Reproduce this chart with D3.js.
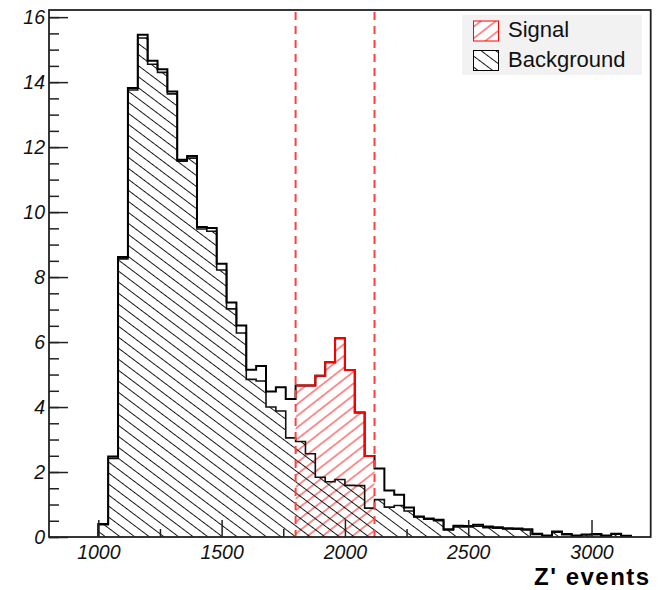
<!DOCTYPE html>
<html>
<head>
<meta charset="utf-8">
<script src="https://cdn.jsdelivr.net/npm/d3@7"></script>
<style>
  body { margin: 0; background: #fff; }
  svg { display: block; font-family: "Liberation Sans", Arial, Helvetica, sans-serif; }
</style>
</head>
<body>
<svg id="chart"></svg>
<script>
// histogram: 40-wide bins starting at 1000
const binStart = 1000;
const binWidth = 40;

// signal + background (outer black step line)
const totalCounts = [
  0.40, 2.48, 8.62, 13.82, 15.46, 14.66, 14.40, 13.71, 11.61, 11.73,
  9.54, 9.51, 8.41, 7.22, 6.51, 5.15, 5.26, 4.48, 4.61, 4.25,
  4.66, 4.66, 4.96, 5.38, 6.12, 5.14, 3.83, 2.49, 2.11, 1.43,
  1.30, 0.91, 0.63, 0.57, 0.53, 0.24, 0.35, 0.34, 0.38, 0.32,
  0.30, 0.27, 0.26, 0.24, 0.10, 0.05, 0.17, 0.09, 0.05, 0.08,
  0.09, 0.05, 0.10, 0.04,
];

// background only (black hatched)
const backgroundCounts = [
  0.38, 2.42, 8.56, 13.76, 15.36, 14.55, 14.30, 13.64, 11.57, 11.66,
  9.48, 9.41, 8.22, 7.02, 6.28, 4.85, 4.80, 4.00, 3.88, 3.05,
  2.94, 2.56, 1.84, 1.70, 1.77, 1.59, 1.58, 0.89, 1.15, 0.92,
  0.97, 0.80, 0.62, 0.55, 0.50, 0.22, 0.31, 0.31, 0.33, 0.29,
  0.27, 0.25, 0.24, 0.22, 0.08, 0.04, 0.15, 0.07, 0.04, 0.07,
  0.07, 0.04, 0.09, 0.03,
];

const signalWindow = [1800, 2120];
const legendLabels = ['Signal', 'Background'];
const xTickValues = [1000, 1500, 2000, 2500, 3000];
const yTickValues = [0, 2, 4, 6, 8, 10, 12, 14, 16];
const xTitle = "Z' events";

const width = 668;
const height = 590;
const margin = { top: 10, right: 17.3, bottom: 53, left: 49 };

const svg = d3.select('#chart').attr('width', width).attr('height', height);

const x = d3.scaleLinear()
  .domain([800, 3240])
  .range([margin.left, width - margin.right]);

const y = d3.scaleLinear()
  .domain([0, 16.22])
  .range([height - margin.bottom, margin.top]);

const bins = totalCounts.map((t, i) => ({
  x0: binStart + i * binWidth,
  x1: binStart + (i + 1) * binWidth,
  total: t,
  bkg: backgroundCounts[i],
}));

// hatch patterns
const defs = svg.append('defs');
function hatch(id, color, angle, gap) {
  const p = defs.append('pattern')
    .attr('id', id)
    .attr('patternUnits', 'userSpaceOnUse')
    .attr('width', 20)
    .attr('height', gap)
    .attr('patternTransform', `rotate(${angle})`);
  p.append('line')
    .attr('x1', 0).attr('x2', 20)
    .attr('y1', gap / 2).attr('y2', gap / 2)
    .attr('stroke', color)
    .attr('stroke-width', 0.9);
}
hatch('hatchBkg', '#000', 37, 8.8);
hatch('hatchSig', '#ff0000', -38, 9.2);

// step helpers
function stepPoints(list, key) {
  const pts = list.map((d) => [d.x0, d[key]]);
  const last = list[list.length - 1];
  pts.push([last.x1, last[key]]);
  return pts;
}
const stepLine = d3.line()
  .x((d) => x(d[0]))
  .y((d) => y(d[1]))
  .curve(d3.curveStepAfter);
const stepArea = d3.area()
  .x((d) => x(d[0]))
  .y0(y(0))
  .y1((d) => y(d[1]))
  .curve(d3.curveStepAfter);

const plot = svg.append('g');

// signal window: total drawn from 0 with red hatch
const sigBins = bins.filter((d) => d.x0 >= signalWindow[0] && d.x1 <= signalWindow[1]);
plot.append('path')
  .attr('d', stepArea(stepPoints(sigBins, 'total')))
  .attr('fill', 'url(#hatchSig)');

// background hatched fill + outline
plot.append('path')
  .attr('d', stepArea(stepPoints(bins, 'bkg')))
  .attr('fill', 'url(#hatchBkg)');

const bkgPts = stepPoints(bins, 'bkg');
plot.append('path')
  .attr('d', stepLine([[bins[0].x0, 0], ...bkgPts, [bins[bins.length - 1].x1, 0]]))
  .attr('fill', 'none')
  .attr('stroke', '#111')
  .attr('stroke-width', 1.6);

// total outline
const totPts = stepPoints(bins, 'total');
plot.append('path')
  .attr('d', stepLine([[bins[0].x0, 0], ...totPts, [bins[bins.length - 1].x1, 0]]))
  .attr('fill', 'none')
  .attr('stroke', '#000')
  .attr('stroke-width', 2);

// red outline over signal window
plot.append('path')
  .attr('d', stepLine(stepPoints(sigBins, 'total')))
  .attr('fill', 'none')
  .attr('stroke', '#ff0000')
  .attr('stroke-width', 2);

// dashed window lines
plot.selectAll('line.window')
  .data(signalWindow)
  .enter().append('line')
  .attr('class', 'window')
  .attr('x1', (d) => x(d))
  .attr('x2', (d) => x(d))
  .attr('y1', margin.top + 2)
  .attr('y2', y(0))
  .attr('stroke', '#ff4040')
  .attr('stroke-width', 2)
  .attr('stroke-dasharray', '8 6');

// axes (ROOT style, ticks inside)
const yMinor = d3.range(0, 16.01, 0.5);
svg.append('g')
  .attr('transform', `translate(${margin.left},0)`)
  .call(d3.axisLeft(y).tickValues(yMinor).tickSize(-10).tickFormat(''))
  .call((g) => g.select('.domain').remove())
  .selectAll('line').attr('stroke', '#222').attr('stroke-width', 1.5);

const yAxis = svg.append('g')
  .attr('transform', `translate(${margin.left},0)`)
  .call(d3.axisLeft(y).tickValues(yTickValues).tickSize(-19).tickPadding(4).tickFormat(d3.format('d')));
yAxis.select('.domain').remove();
yAxis.selectAll('line').attr('stroke', '#222').attr('stroke-width', 1.5);
yAxis.selectAll('text')
  .attr('font-size', 19.5)
  .attr('font-style', 'italic')
  .attr('font-family', '"Liberation Sans", Arial, sans-serif')
  .attr('fill', '#111');

const xMinor = [1250, 1750, 2250, 2750];
svg.append('g')
  .attr('transform', `translate(0,${y(0)})`)
  .call(d3.axisBottom(x).tickValues(xMinor).tickSize(-8).tickFormat(''))
  .call((g) => g.select('.domain').remove())
  .selectAll('line').attr('stroke', '#222').attr('stroke-width', 1.5);

const xAxis = svg.append('g')
  .attr('transform', `translate(0,${y(0)})`)
  .call(d3.axisBottom(x).tickValues(xTickValues).tickSize(-17).tickPadding(8).tickFormat(d3.format('d')));
xAxis.select('.domain').remove();
xAxis.selectAll('line').attr('stroke', '#222').attr('stroke-width', 1.5);
xAxis.selectAll('text')
  .attr('font-size', 19.5)
  .attr('font-style', 'italic')
  .attr('font-family', '"Liberation Sans", Arial, sans-serif')
  .attr('fill', '#111');

// frame
svg.append('rect')
  .attr('x', margin.left)
  .attr('y', margin.top)
  .attr('width', width - margin.right - margin.left)
  .attr('height', y(0) - margin.top)
  .attr('fill', 'none')
  .attr('stroke', '#222')
  .attr('stroke-width', 1.8);

// x title
svg.append('text')
  .attr('x', width - margin.right)
  .attr('y', 584.5)
  .attr('text-anchor', 'end')
  .attr('font-size', 24)
  .attr('font-weight', 'bold')
  .attr('letter-spacing', 1.5)
  .attr('fill', '#000')
  .text(xTitle);

// legend
const legend = svg.append('g').attr('transform', 'translate(462,15)');
legend.append('rect')
  .attr('width', 180)
  .attr('height', 60)
  .attr('fill', '#f2f2f2');

const legendStyle = [
  { fill: 'url(#hatchSig)', stroke: '#ff0000' },
  { fill: 'url(#hatchBkg)', stroke: '#000' },
];
const item = legend.selectAll('g.item')
  .data(legendLabels)
  .enter().append('g')
  .attr('class', 'item')
  .attr('transform', (d, i) => `translate(11.5,${6 + i * 29.5})`);
item.append('rect')
  .attr('width', 25)
  .attr('height', 20)
  .attr('fill', '#fff');
item.append('rect')
  .attr('width', 25)
  .attr('height', 20)
  .attr('fill', (d, i) => legendStyle[i].fill)
  .attr('stroke', (d, i) => legendStyle[i].stroke)
  .attr('stroke-width', 1);
item.append('text')
  .attr('x', 34.5)
  .attr('y', 16)
  .attr('font-size', 22)
  .attr('fill', '#111')
  .text((d) => d);
</script>
</body>
</html>
